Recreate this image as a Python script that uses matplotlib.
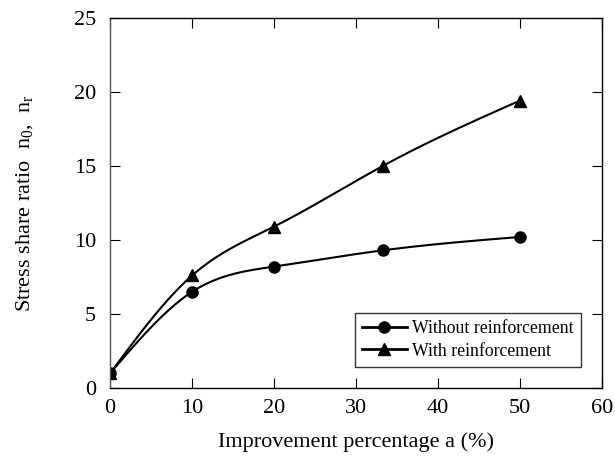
import numpy as np
import matplotlib
matplotlib.use('Agg')
import matplotlib.pyplot as plt

plt.rcParams['font.family'] = ['Liberation Serif', 'DejaVu Serif']
plt.rcParams['mathtext.fontset'] = 'custom'
plt.rcParams['mathtext.rm'] = 'Liberation Serif'
plt.rcParams['mathtext.it'] = 'Liberation Serif'

# data
improvement = [0, 10, 20, 33.3, 50]
without_reinf = [1.0, 6.5, 8.2, 9.3, 10.2]
with_reinf = [1.0, 7.6, 10.9, 15.0, 19.4]


def smooth(x, y, n=200):
    # natural cubic spline through the points, only used to draw the curve
    x = np.asarray(x, float)
    y = np.asarray(y, float)
    k = len(x)
    h = np.diff(x)
    A = np.zeros((k, k))
    b = np.zeros(k)
    A[0, 0] = A[-1, -1] = 1
    for i in range(1, k - 1):
        A[i, i - 1] = h[i - 1]
        A[i, i] = 2 * (h[i - 1] + h[i])
        A[i, i + 1] = h[i]
        b[i] = 6 * ((y[i + 1] - y[i]) / h[i] - (y[i] - y[i - 1]) / h[i - 1])
    M = np.linalg.solve(A, b)
    xs = np.linspace(x[0], x[-1], n)
    idx = np.clip(np.searchsorted(x, xs) - 1, 0, k - 2)
    x0, x1 = x[idx], x[idx + 1]
    hh = x1 - x0
    t0 = x1 - xs
    t1 = xs - x0
    ys = (M[idx] * t0**3 + M[idx + 1] * t1**3) / (6 * hh) \
        + (y[idx] / hh - M[idx] * hh / 6) * t0 \
        + (y[idx + 1] / hh - M[idx + 1] * hh / 6) * t1
    return xs, ys


fig = plt.figure(figsize=(6.15, 4.61), dpi=100)
ax = fig.add_axes([0.179, 0.158, 0.800, 0.804])

for ys, mk, ms, lab in [(without_reinf, 'o', 8, 'Without reinforcement'),
                        (with_reinf, '^', 9, 'With reinforcement')]:
    sx, sy = smooth(improvement, ys)
    ax.plot(sx, sy, color='black', lw=1.5)
    ax.plot(improvement, ys, linestyle='none', marker=mk, ms=ms, color='black')
    ax.plot([], [], color='black', lw=2, marker=mk, ms=ms, label=lab)

ax.set_xlim(0, 60)
ax.set_ylim(0, 25)
ax.set_xticks(range(0, 61, 10))
ax.set_yticks(range(0, 26, 5))
ax.tick_params(direction='in', top=True, right=True, length=7, width=0.8,
               labelsize=16)
ax.tick_params(axis='x', pad=8)
ax.tick_params(axis='y', pad=10)
for s in ax.spines.values():
    s.set_linewidth(1.0)
ax.spines['left'].set_color('#555555')

ax.set_xlabel('Improvement percentage a (%)', fontsize=16, labelpad=10)
ax.set_ylabel(r'Stress share ratio  n$_\mathrm{0}$,  n$_\mathrm{r}$', fontsize=16, labelpad=28)

leg = ax.legend(loc='lower right', fontsize=12.8, frameon=True, fancybox=False,
                edgecolor='black', handlelength=2.5, borderaxespad=1.2,
                handletextpad=0.3, labelspacing=0.3, borderpad=0.4)
leg.get_frame().set_linewidth(1.0)

fig.savefig('out.png', dpi=100)
